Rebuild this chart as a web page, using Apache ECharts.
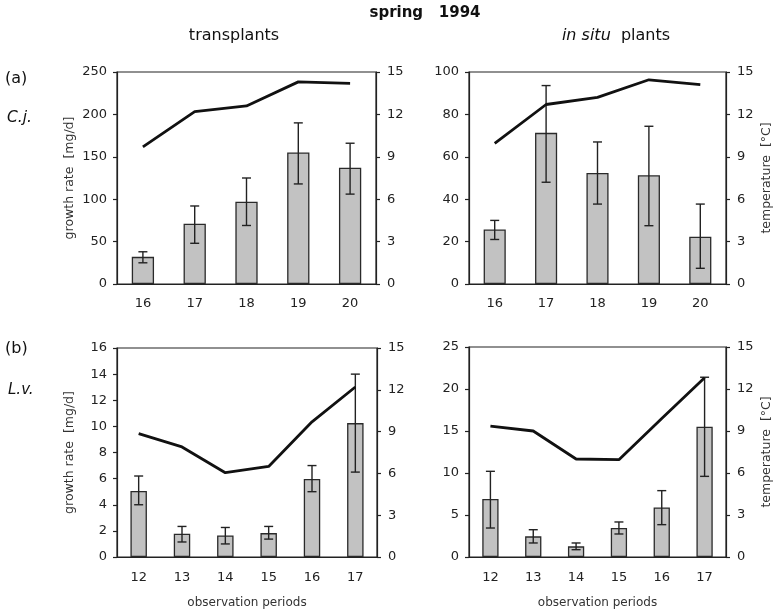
<!DOCTYPE html>
<html><head><meta charset="utf-8">
<script src="https://cdn.jsdelivr.net/npm/echarts@6/dist/echarts.min.js"></script>
<style>html,body{margin:0;padding:0;background:#fff}#c{width:774px;height:612px}</style>
</head><body><div id="c"></div>
<script>
// Top row: C.j., periods 16-20
const periodsA = ['16','17','18','19','20'];
const transCjGrowth = [32, 71, 97, 155, 137];
const transCjLow    = [25, 48, 69, 118, 106];
const transCjHigh   = [38, 92, 125, 190, 166];
const transCjTemp   = [9.7, 12.2, 12.6, 14.3, 14.2];

const insituCjGrowth = [25.7, 71.3, 52.4, 51.3, 22.3];
const insituCjLow    = [21, 48, 37.7, 27.5, 7.4];
const insituCjHigh   = [30, 93.6, 67, 74.4, 37.7];
const insituCjTemp   = [9.95, 12.7, 13.2, 14.45, 14.1];

// Bottom row: L.v., periods 12-17
const periodsB = ['12','13','14','15','16','17'];
const transLvGrowth = [5.05, 1.78, 1.65, 1.83, 5.98, 10.25];
const transLvLow    = [4.0, 1.15, 1.0, 1.37, 5.0, 6.5];
const transLvHigh   = [6.2, 2.34, 2.26, 2.34, 7.0, 14.0];
const transLvTemp   = [8.85, 7.9, 6.05, 6.5, 9.7, 12.2];

const insituLvGrowth = [6.9, 2.46, 1.27, 3.45, 5.9, 15.5];
const insituLvLow    = [3.45, 1.67, 0.87, 2.74, 3.85, 9.6];
const insituLvHigh   = [10.2, 3.25, 1.67, 4.17, 7.9, 21.4];
const insituLvTemp   = [9.35, 9.0, 7.0, 6.95, 9.9, 12.8];

const growthMax = [250, 100, 16, 25];
const growthInterval = [50, 20, 2, 5];

const FONT = 'DejaVu Sans';
const chart = echarts.init(document.getElementById('c'));

const panels = [
  {cats: periodsA, g: transCjGrowth, lo: transCjLow, hi: transCjHigh, t: transCjTemp},
  {cats: periodsA, g: insituCjGrowth, lo: insituCjLow, hi: insituCjHigh, t: insituCjTemp},
  {cats: periodsB, g: transLvGrowth, lo: transLvLow, hi: transLvHigh, t: transLvTemp},
  {cats: periodsB, g: insituLvGrowth, lo: insituLvLow, hi: insituLvHigh, t: insituLvTemp}
];
const grids = [
  {left: 117, top: 72, width: 259, height: 212},
  {left: 469, top: 72, width: 258, height: 212},
  {left: 117, top: 348, width: 260, height: 209},
  {left: 469, top: 347, width: 258, height: 210}
];

const axisLineStyle = {color: '#222', width: 1.2};
const grid = [], xAxis = [], yAxis = [], series = [];
panels.forEach((p, i) => {
  grid.push(Object.assign({show: true, borderColor: '#222', borderWidth: 1.2, containLabel: false}, grids[i]));
  xAxis.push({
    type: 'category', gridIndex: i, data: p.cats,
    axisLine: {lineStyle: axisLineStyle},
    axisTick: {length: 4, lineStyle: axisLineStyle},
    axisLabel: {color: '#222', fontFamily: FONT, fontSize: 13, margin: i < 2 ? 13 : 14},
    name: i >= 2 ? 'observation periods' : '', nameLocation: 'middle', nameGap: 40,
    nameTextStyle: {color: '#333', fontFamily: FONT, fontSize: 12}
  });
  yAxis.push({
    type: 'value', gridIndex: i, min: 0, max: growthMax[i], interval: growthInterval[i],
    splitLine: {show: false},
    axisLine: {show: true, lineStyle: axisLineStyle},
    axisTick: {show: true, length: 4, lineStyle: axisLineStyle},
    axisLabel: {color: '#222', fontFamily: FONT, fontSize: 13, margin: 10},
    name: (i % 2 === 0) ? 'growth rate  [mg/d]' : '', nameLocation: 'middle', nameGap: 41, nameRotate: 90,
    nameTextStyle: {color: '#333', fontFamily: FONT, fontSize: 12.5}
  });
  yAxis.push({
    type: 'value', gridIndex: i, position: 'right', min: 0, max: 15, interval: 3,
    splitLine: {show: false},
    axisLine: {show: true, lineStyle: axisLineStyle},
    axisTick: {show: true, length: 4, lineStyle: axisLineStyle},
    axisLabel: {color: '#222', fontFamily: FONT, fontSize: 13, margin: 11},
    name: (i % 2 === 1) ? 'temperature  [°C]' : '', nameLocation: 'middle', nameGap: 34, nameRotate: 90,
    nameTextStyle: {color: '#333', fontFamily: FONT, fontSize: 12.5}
  });
  const yG = i * 2, yT = i * 2 + 1;
  series.push({
    type: 'bar', xAxisIndex: i, yAxisIndex: yG, data: p.g,
    barWidth: i < 2 ? '43%' : '38%',
    itemStyle: {color: '#c2c2c2', borderColor: '#2a2a2a', borderWidth: 1.3},
    z: 2
  });
  series.push({
    type: 'custom', xAxisIndex: i, yAxisIndex: yG,
    data: p.cats.map((c, k) => [k, p.lo[k], p.hi[k]]),
    encode: {x: 0, y: [1, 2]},
    renderItem: function (params, api) {
      const x = api.value(0);
      const lo = api.coord([x, api.value(1)]);
      const hi = api.coord([x, api.value(2)]);
      const w = 4.5;
      const st = {stroke: '#222', lineWidth: 1.4};
      return {type: 'group', children: [
        {type: 'line', shape: {x1: lo[0], y1: lo[1], x2: hi[0], y2: hi[1]}, style: st},
        {type: 'line', shape: {x1: lo[0] - w, y1: lo[1], x2: lo[0] + w, y2: lo[1]}, style: st},
        {type: 'line', shape: {x1: hi[0] - w, y1: hi[1], x2: hi[0] + w, y2: hi[1]}, style: st}
      ]};
    },
    z: 3
  });
  series.push({
    type: 'line', xAxisIndex: i, yAxisIndex: yT, data: p.t,
    showSymbol: false, symbol: 'none',
    lineStyle: {color: '#111', width: 2.8}, z: 4
  });
});

const plain = (size, extra) => Object.assign({fontFamily: FONT, fontSize: size, fontWeight: 'normal', color: '#111'}, extra || {});
chart.setOption({
  animation: false,
  textStyle: {fontFamily: FONT},
  title: [
    {text: 'spring   1994', left: 425, top: 6, textAlign: 'center', padding: 0,
     textStyle: plain(15, {fontWeight: 'bold'})},
    {text: 'transplants', left: 234, top: 28, textAlign: 'center', padding: 0,
     textStyle: plain(16)},
    {text: '{i|in situ}  plants', left: 616, top: 28, textAlign: 'center', padding: 0,
     textStyle: plain(16, {rich: {i: plain(16, {fontStyle: 'italic'})}})},
    {text: '(a)', left: 5, top: 71, padding: 0, textStyle: plain(16)},
    {text: 'C.j.', left: 7, top: 110, padding: 0, textStyle: plain(15.5, {fontStyle: 'italic'})},
    {text: '(b)', left: 5, top: 341, padding: 0, textStyle: plain(16)},
    {text: 'L.v.', left: 8, top: 383, padding: 0, textStyle: plain(15, {fontStyle: 'italic'})}
  ],
  grid, xAxis, yAxis, series
});
</script></body></html>
